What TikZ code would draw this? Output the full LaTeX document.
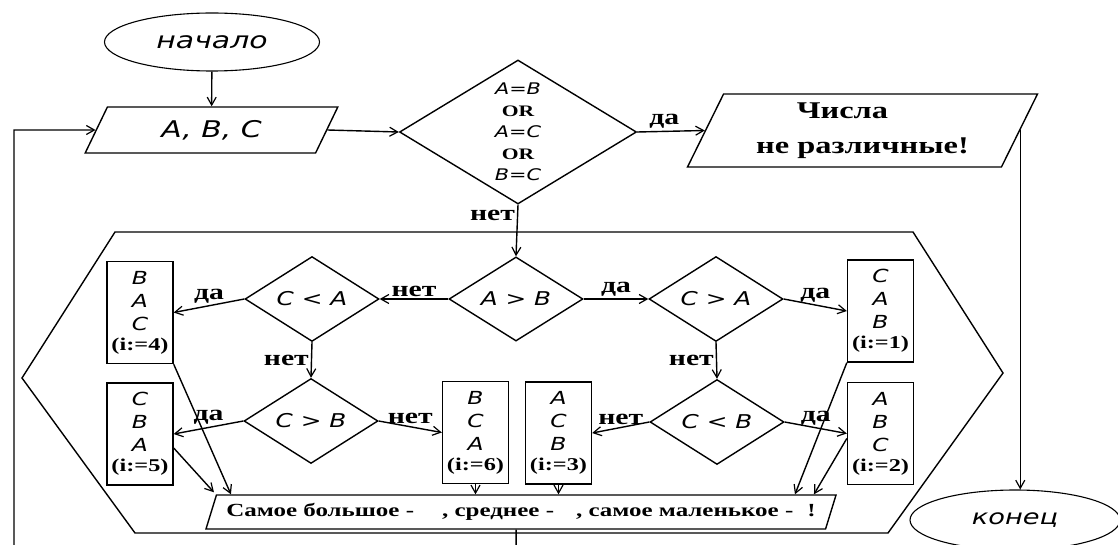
\documentclass[tikz,border=0pt]{standalone}
\usepackage{fontspec}
\usetikzlibrary{shapes.geometric,arrows.meta,calc}
\newfontfamily\LabFont[FakeStretch=1.35]{Liberation Serif}
\newfontfamily\ItFont[FakeStretch=1.3]{DejaVu Sans}
\newcommand\LabB{\LabFont\bfseries\upshape}
\newcommand\ItS{\ItFont\itshape}
\begin{document}
\begin{tikzpicture}[x=1pt,y=-1pt,
  ln/.style={line width=1.4pt},
  arr/.style={ln,-{Straight Barb[length=8pt,width=9pt,line width=1.2pt]}},
  dia/.style={diamond,draw,ln,inner sep=0pt,minimum width=134pt,minimum height=82pt,
    font=\ItS\fontsize{19}{21}\selectfont},
  box/.style={rectangle,draw,ln,minimum width=66pt,minimum height=102pt,inner sep=0pt,
    align=center,font=\ItS\fontsize{18}{23}\selectfont},
  io/.style={trapezium,draw,ln,trapezium stretches=true,inner sep=0pt},
  term/.style={ellipse,draw,line width=1.1pt,inner sep=0pt},
  lab/.style={font=\LabB\fontsize{22}{24}\selectfont,inner sep=2pt},
  ib/.style={font=\LabB\fontsize{18}{20}\selectfont}
]
\useasboundingbox (0,0) rectangle (1118,545);
\clip (0,0) rectangle (1118,545);

% terminals
\node[term,minimum width=215pt,minimum height=58pt,font=\ItS\fontsize{23}{25}\selectfont]
  (start) at (212,42) {начало};
\node[term,minimum width=210pt,minimum height=60pt,font=\ItS\fontsize{21}{23}\selectfont]
  (konec) at (1015,520) {конец};

% input
\node[io,trapezium left angle=61.5,trapezium right angle=118.5,
  minimum width=253pt,minimum height=46pt,font=\ItS\fontsize{23}{25}\selectfont]
  (inp) at (211.5,130) {A, B, C};

% first decision
\node[diamond,draw,ln,inner sep=0pt,aspect=1.65,minimum width=237pt,minimum height=144pt,
  align=center,font=\fontsize{16}{21.5}\selectfont] (d1) at (518,132)
  {\ItS A=B\\
   \LabB OR\\
   \ItS A=C\\
   \LabB OR\\
   \ItS B=C};

% message: not different
\node[io,trapezium left angle=63.7,trapezium right angle=116.3,
  minimum width=351pt,minimum height=73pt,align=center,
  font=\LabB\fontsize{24}{35}\selectfont]
  (neq) at (862.5,130.5) {\hspace*{-40pt}Числа\\не различные!};

% inner hexagon (loop body)
\draw[ln] (115,232) -- (913,232) -- (1003,373) -- (888,533) -- (135,533) -- (22,378) -- cycle;

% decisions
\node[dia] (AB)  at (516,299) {A > B};
\node[dia] (CA)  at (312,299) {C < A};
\node[dia] (CgA) at (716,299) {C > A};
\node[dia] (CgB) at (311,421) {C > B};
\node[dia] (ClB) at (717,422) {C < B};

% result boxes
\node[box] (b4) at (140,312.5) {B\\A\\C\\[-3pt]{\LabB\fontsize{18}{20}\selectfont (i:=4)}};
\node[box] (b5) at (140,434)   {C\\B\\A\\[-3pt]{\LabB\fontsize{18}{20}\selectfont (i:=5)}};
\node[box] (b1) at (880.5,311) {C\\A\\B\\[-3pt]{\LabB\fontsize{18}{20}\selectfont (i:=1)}};
\node[box] (b2) at (880.5,433.5) {A\\B\\C\\[-3pt]{\LabB\fontsize{18}{20}\selectfont (i:=2)}};
\node[box] (b6) at (475.5,432.5) {B\\C\\A\\[-3pt]{\LabB\fontsize{18}{20}\selectfont (i:=6)}};
\node[box] (b3) at (558.5,433) {A\\C\\B\\[-3pt]{\LabB\fontsize{18}{20}\selectfont (i:=3)}};

% output
\node[io,trapezium left angle=59.5,trapezium right angle=120.5,
  minimum width=633pt,minimum height=34pt,font=\LabB\fontsize{18.5}{20}\selectfont]
  (out) at (521,512)
  {Самое большое -\hspace{28pt}, среднее -\hspace{22pt}, самое маленькое -\hspace{14pt}!};

% coordinates
\coordinate (loopL) at (14,130);
\coordinate (outB) at ($(out.south)+(-5,0)$);
\coordinate (t4) at ($(out.top left corner)+(15,0)$);
\coordinate (t5) at ($(out.top left corner)+(-2,-2)$);
\coordinate (t1) at ($(out.top right corner)+(-42,0)$);
\coordinate (t2) at ($(out.top right corner)+(-23,0)$);

% connectors top
\draw[arr] (start) -- (inp);
\draw[arr] (inp.east) -- (d1.west);
\draw[arr] (d1.east) -- node[lab,above,pos=0.4]{да} (neq.west);
\draw[arr] (neq.east) -- (konec.north -| neq.east);
\draw[arr] (d1.south) -- node[lab,left,pos=0.2]{нет} (AB.north);
\draw[arr] (outB) -- ++(0,40) -| (loopL) -- (inp.west);

% inner connectors
\draw[arr] (AB.west) -- node[lab,above]{нет} (CA.east);
\draw[arr] (AB.east) -- node[lab,above]{да} (CgA.west);
\draw[arr] (CgA.east) -- node[lab,above]{да} (b1.west);
\draw[arr] (CgA.south) -- node[lab,left]{нет} (ClB.north);
\draw[arr] (ClB.east) -- node[lab,above]{да} (b2.west);
\draw[arr] (ClB.west) -- node[lab,above]{нет} (b3.east);
\draw[arr] (CA.west) -- node[lab,above]{да} (b4.east);
\draw[arr] (CA.south) -- node[lab,left]{нет} (CgB.north);
\draw[arr] (CgB.west) -- node[lab,above]{да} (b5.east);
\draw[arr] (CgB.east) -- node[lab,above]{нет} (b6.west);

% to output
\draw[arr] (b4.south east) -- (t4);
\draw[arr] ($(b5.east)+(0,14)$) -- (t5);
\draw[arr] (b6.south) -- (b6.south |- out.north);
\draw[arr] (b3.south) -- (b3.south |- out.north);
\draw[arr] (b1.south west) -- (t1);
\draw[arr] ($(b2.west)+(0,5)$) -- (t2);
\end{tikzpicture}
\end{document}
